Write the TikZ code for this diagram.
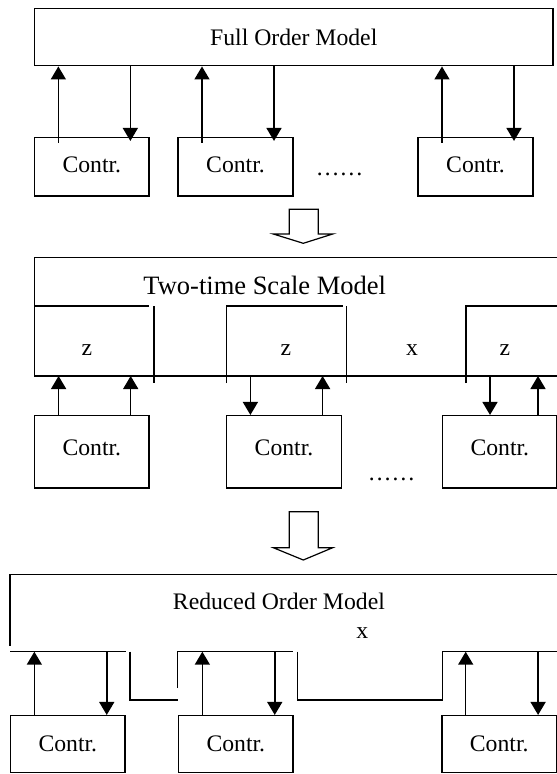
\documentclass[tikz,border=0pt]{standalone}
\usepackage{fontspec}
\setmainfont{Liberation Serif}
\usetikzlibrary{arrows.meta}

\begin{document}
\begin{tikzpicture}[x=1pt, y=-1pt, line width=1.5pt, every node/.style={font=\fontsize{23.7}{28}\selectfont}]
\tikzstyle{modelnode}=[draw=black, minimum height=57.4pt, minimum width=518.5pt, fill=none, text=black, inner sep=0pt]
\tikzstyle{contrnode}=[draw=black, minimum width=114.7pt, fill=none, text=black, inner sep=0pt]
\tikzstyle{labelnode}=[text=black, inner sep=0pt]
\tikzstyle{sig}=[-{Triangle[width=15pt,length=13pt]}]
\tikzstyle{hollow}=[line width=1.2pt, line join=miter]

\useasboundingbox (0,0) rectangle (557,774);

% full order model
\node (f0) at (293.75,37) [modelnode] {Full Order Model};
\foreach \i/\cx in {1/91.85,2/235.5,3/475.5}
  \node (f\i) at (\cx,166.85) [contrnode, minimum height=58.3pt, text depth=4pt] {Contr.};
\node (fdots) at (339.5,175) [labelnode, anchor=base] {……};
\foreach \i in {1,2,3}{
  \draw[sig] ([xshift=-33.5pt,yshift=-5.6pt]f\i.north) -- ([xshift=-33.5pt]f\i.north |- f0.south);
  \draw[sig] ([xshift=38.5pt]f\i.north |- f0.south) -- ([xshift=38.5pt,yshift=-4pt]f\i.north);
}

\draw[hollow] (289.3,209.3) -- (318.3,209.3) -- (318.3,234) -- (332.7,234) -- (303.3,243.3)
  -- (273.3,234) -- (289.3,234) -- cycle;

% two-time scale model
\draw (560,257.3) -- (34.5,257.3) -- (34.5,376) -- (560,376);
\coordinate (sbot) at (34.5,376);
\node (stitle) at (264.7,285) [labelnode, font=\fontsize{26.5}{31}\selectfont] {Two-time Scale Model};
\draw (34.5,306) -- (149.2,306);
\draw (153.8,306) -- (153.8,383);
\draw (226.3,383) -- (226.3,306) -- (342.8,306);
\draw (346.4,306) -- (346.4,383);
\draw (466,383) -- (466,306) -- (560,306);
\node (sz1) at (87,350) [labelnode] {z};
\node (sz2) at (286,350) [labelnode] {z};
\node (sx) at (412,350) [labelnode] {x};
\node (sz3) at (505,350) [labelnode] {z};

\foreach \i/\cx in {1/91.85,2/284,3/499.8}
  \node (s\i) at (\cx,451.85) [contrnode, minimum height=72.3pt, text depth=9pt] {Contr.};
\node (sdots) at (391.5,480) [labelnode, anchor=base] {……};
\draw[sig] ([xshift=-33.25pt]s1.north) -- ([xshift=-33.25pt]s1.north |- sbot);
\draw[sig] ([xshift=38.85pt]s1.north) -- ([xshift=38.85pt]s1.north |- sbot);
\draw[sig] ([xshift=-33.6pt]s2.north |- sbot) -- ([xshift=-33.6pt]s2.north);
\draw[sig] ([xshift=38.6pt]s2.north) -- ([xshift=38.6pt]s2.north |- sbot);
\draw[sig] ([xshift=-9.8pt]s3.north |- sbot) -- ([xshift=-9.8pt]s3.north);
\draw[sig] ([xshift=38.2pt]s3.north) -- ([xshift=38.2pt]s3.north |- sbot);

\draw[hollow] (289.3,511.7) -- (318.3,511.7) -- (318.3,547.7) -- (332.7,547.7) -- (303.3,560)
  -- (273.3,547.7) -- (289.3,547.7) -- cycle;

% reduced order model
\draw (560,574.7) -- (10,574.7) -- (10,646);
\coordinate (rbot) at (10,651.7);
\node (rtitle) at (278.9,601.7) [labelnode] {Reduced Order Model};
\node (rx) at (362.3,633.3) [labelnode] {x};
\draw (10,651.7) -- (126,651.7);
\draw (130,651.7) -- (130,700) -- (178,700);
\draw (177.7,688) -- (177.7,651.7) -- (293.4,651.7);
\draw (297.5,651.7) -- (297.5,700) -- (442.5,700) -- (442.5,651.7) -- (560,651.7);

\foreach \i/\cx in {1/67.85,2/235.85,3/499.2}
  \node (r\i) at (\cx,744.2) [contrnode, minimum height=57pt] {Contr.};
\foreach \i in {1,2,3}{
  \draw[sig] ([xshift=-33.5pt]r\i.north) -- ([xshift=-33.5pt]r\i.north |- rbot);
  \draw[sig] ([xshift=38.9pt]r\i.north |- rbot) -- ([xshift=38.9pt]r\i.north);
}
\end{tikzpicture}
\end{document}
